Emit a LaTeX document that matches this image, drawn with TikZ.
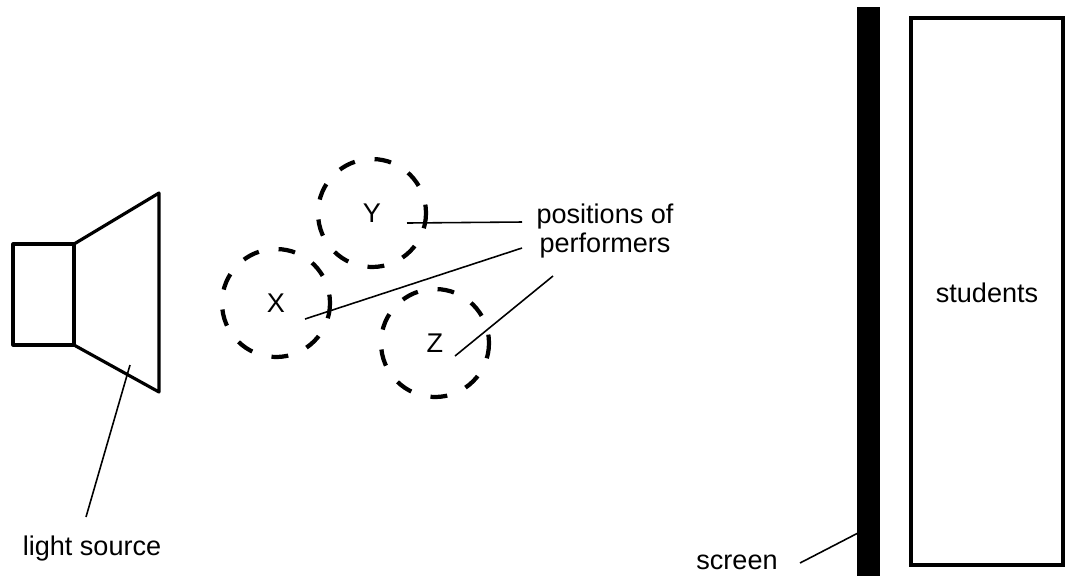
\documentclass[tikz,border=0pt]{standalone}
\usepackage{fontspec}
\setmainfont{Liberation Sans}
\begin{document}
\begin{tikzpicture}[x=0.1mm, y=-0.1mm, every node/.style={font=\fontsize{7.7pt}{8pt}\selectfont}]
  \tikzset{
    lamp/.style={draw, line width=0.9pt, line join=round},
    perf/.style={circle, draw, line width=1.2pt, minimum size=1.08cm, inner sep=0pt,
                 dash pattern=on 4.8pt off 5.7pt, dash phase=2.4pt},
    lead/.style={line width=0.45pt}
  }
  \useasboundingbox (0,0) rectangle (1067,576);
  % light source
  \draw[lamp] (13,244) rectangle (74,345);
  \coordinate (cone-a) at (74,244);
  \coordinate (cone-b) at (159,193);
  \coordinate (cone-c) at (159,392);
  \coordinate (cone-d) at (74,345);
  \draw[lamp] (cone-a) -- (cone-b) -- (cone-c) -- (cone-d);
  \node (ls) at (92,548) {light source};
  \coordinate (ls-top) at (86,517);
  \coordinate (ls-tip) at (130,365);
  \draw[lead] (ls-top) -- (ls-tip);
  % performers
  \node[perf] (pY) at (372,213) {Y};
  \node[perf] (pX) at (276,303) {X};
  \node[perf] (pZ) at (435,343) {Z};
  \node[align=center] (pos) at (605,231) {positions of\\performers};
  \coordinate (y-in) at (407,223);
  \coordinate (y-out) at (522,222);
  \coordinate (x-in) at (305,319);
  \coordinate (x-out) at (522,248);
  \coordinate (z-in) at (455,356);
  \coordinate (z-out) at (553,276);
  \draw[lead] (y-in) -- (y-out);
  \draw[lead] (x-in) -- (x-out);
  \draw[lead] (z-in) -- (z-out);
  % screen and students
  \fill (857,7) rectangle (880,576);
  \node[draw, line width=1pt, minimum width=1.52cm, minimum height=5.47cm] (st) at (987,291.5) {};
  \node at (987,293) {students};
  \node (sc) at (737,562) {screen};
  \coordinate (sc-out) at (800,563);
  \coordinate (sc-in) at (858,533);
  \draw[lead] (sc-out) -- (sc-in);
\end{tikzpicture}
\end{document}
